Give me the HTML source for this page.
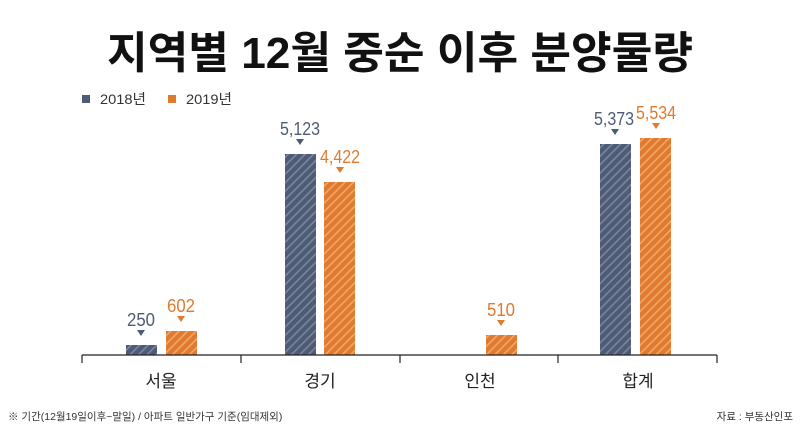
<!DOCTYPE html>
<html><head><meta charset="utf-8"><style>
body{margin:0;background:#fff;}
svg text{font-family:"Liberation Sans","Noto Sans CJK KR",sans-serif;}
</style></head><body>
<svg width="800" height="434" viewBox="0 0 800 434" xmlns="http://www.w3.org/2000/svg">
<defs>
<pattern id="pb" width="6" height="6" patternUnits="userSpaceOnUse" patternTransform="rotate(45)">
<rect width="6" height="6" fill="#4e5b75"/><rect width="1.6" height="6" fill="#7a86a0"/></pattern>
<pattern id="po" width="6" height="6" patternUnits="userSpaceOnUse" patternTransform="rotate(45)">
<rect width="6" height="6" fill="#e07a2e"/><rect width="1.6" height="6" fill="#f2a66a"/></pattern>
</defs>
<text x="400" y="68" text-anchor="middle" font-size="44" font-weight="bold" fill="#111" textLength="586" lengthAdjust="spacingAndGlyphs">지역별 12월 중순 이후 분양물량</text>
<rect x="82" y="95" width="8" height="8" fill="#4e5b75"/>
<text x="100" y="104" font-size="14" fill="#333" textLength="46" lengthAdjust="spacingAndGlyphs">2018년</text>
<rect x="168" y="95" width="8" height="8" fill="#e07a2e"/>
<text x="186" y="104" font-size="14" fill="#333" textLength="46" lengthAdjust="spacingAndGlyphs">2019년</text>
<g>
<rect x="126" y="345" width="31" height="10" fill="url(#pb)"/>
<rect x="166" y="331" width="31" height="24" fill="url(#po)"/>
<rect x="285" y="154" width="31" height="201" fill="url(#pb)"/>
<rect x="324" y="182" width="31" height="173" fill="url(#po)"/>
<rect x="486" y="335" width="31" height="20" fill="url(#po)"/>
<rect x="600" y="144" width="31" height="211" fill="url(#pb)"/>
<rect x="640" y="138" width="31" height="217" fill="url(#po)"/>
</g>
<g font-size="18" text-anchor="middle">
<text x="141" y="326" fill="#4e5b75" textLength="28" lengthAdjust="spacingAndGlyphs">250</text><path d="M137 330h8l-4 6z" fill="#4e5b75"/>
<text x="181" y="312" fill="#e07a2e" textLength="28" lengthAdjust="spacingAndGlyphs">602</text><path d="M177 316h8l-4 6z" fill="#e07a2e"/>
<text x="300" y="135" fill="#4e5b75" textLength="40" lengthAdjust="spacingAndGlyphs">5,123</text><path d="M296 139h8l-4 6z" fill="#4e5b75"/>
<text x="340" y="163" fill="#e07a2e" textLength="40" lengthAdjust="spacingAndGlyphs">4,422</text><path d="M336 167h8l-4 6z" fill="#e07a2e"/>
<text x="501" y="316" fill="#e07a2e" textLength="28" lengthAdjust="spacingAndGlyphs">510</text><path d="M497 320h8l-4 6z" fill="#e07a2e"/>
<text x="614" y="125" fill="#4e5b75" textLength="40" lengthAdjust="spacingAndGlyphs">5,373</text><path d="M611 129h8l-4 6z" fill="#4e5b75"/>
<text x="656" y="119" fill="#e07a2e" textLength="40" lengthAdjust="spacingAndGlyphs">5,534</text><path d="M652 123h8l-4 6z" fill="#e07a2e"/>
</g>
<path d="M82 355H717M82 355v8M241 355v8M400 355v8M558 355v8M717 355v8" stroke="#222" stroke-width="1.2" fill="none"/>
<g font-size="17" text-anchor="middle" fill="#222">
<text x="161" y="387">서울</text><text x="320" y="387">경기</text><text x="480" y="387">인천</text><text x="638" y="387">합계</text>
</g>
<text x="8" y="420" font-size="10.5" fill="#333">※ 기간(12월19일이후~말일) / 아파트 일반가구 기준(임대제외)</text>
<text x="793" y="420" font-size="10.5" fill="#333" text-anchor="end">자료 : 부동산인포</text>
</svg>
</body></html>
